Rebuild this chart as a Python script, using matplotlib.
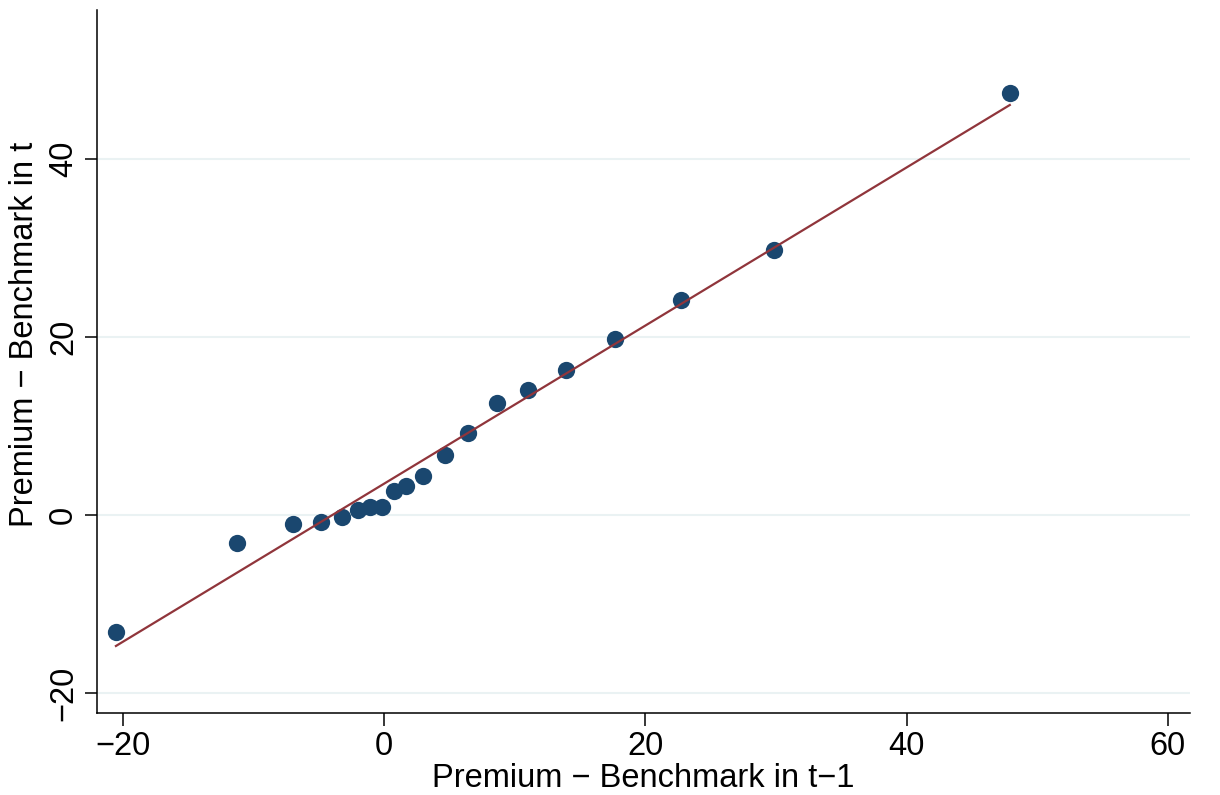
import numpy as np
import matplotlib.pyplot as plt

plt.rcParams["font.family"] = ["Liberation Sans", "DejaVu Sans"]

# binned scatter values
prem_prev = [-20.55, -11.3, -6.97, -4.85, -3.25, -2.03, -1.06, -0.17, 0.73, 1.67,
             2.97, 4.63, 6.38, 8.6, 10.97, 13.95, 17.7, 22.75, 29.85, 47.9]
prem_now = [-13.1, -3.1, -0.98, -0.8, -0.22, 0.56, 0.94, 0.9, 2.66, 3.26,
            4.42, 6.74, 9.21, 12.6, 14.04, 16.3, 19.8, 24.2, 29.8, 47.4]

# linear fit (estimated from the drawn line)
fit_slope = 0.887
fit_intercept = 3.55

x_ticks = [-20, 0, 20, 40, 60]
y_ticks = [-20, 0, 20, 40]

fig = plt.figure(figsize=(12.2, 7.95), dpi=100)
ax = fig.add_axes([97 / 1220, 1 - 713 / 795, (1190 - 97) / 1220, (713 - 10) / 795])

ax.scatter(prem_prev, prem_now, s=155, color="#1a476f", zorder=3, linewidths=0)
xl = np.array([min(prem_prev), max(prem_prev)])
ax.plot(xl, fit_intercept + fit_slope * xl, color="#90353b", lw=1.6, zorder=4)

ax.set_xlim(-22.0, 61.7)
ax.set_ylim(-22.2, 56.7)
ax.set_xticks(x_ticks)
ax.set_yticks(y_ticks)
for t in ax.get_yticklabels():
    t.set_rotation(90)
    t.set_va("center")

ax.grid(axis="y", color="#eaf2f3", lw=1.5)
ax.set_axisbelow(True)
ax.spines["top"].set_visible(False)
ax.spines["right"].set_visible(False)
for s in ["left", "bottom"]:
    ax.spines[s].set_linewidth(1.1)
ax.tick_params(length=9, width=1.1, labelsize=23.5, pad=4)

ax.set_xlabel("Premium \u2212 Benchmark in t\u22121", fontsize=23.5, labelpad=1)
ax.set_ylabel("Premium \u2212 Benchmark in t", fontsize=23.5)
ax.yaxis.set_label_coords(-0.052, 0.539)

fig.savefig("out.png", dpi=100)
